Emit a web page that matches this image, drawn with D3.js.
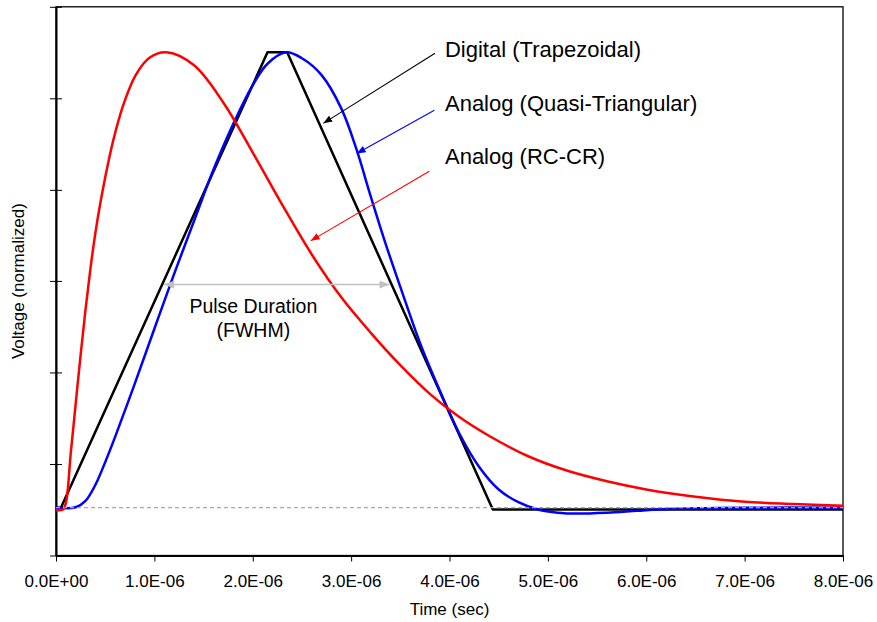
<!DOCTYPE html>
<html>
<head>
<meta charset="utf-8">
<script src="https://cdn.jsdelivr.net/npm/d3@7"></script>
<style>
  body { margin: 0; background: #fff; }
  svg { font-family: "Liberation Sans", Arial, sans-serif; }
</style>
</head>
<body>
<div id="chart"></div>
<script>
// Times are in microseconds, voltage is normalized to the peak
const trapTime = [0, 0.05, 2.15, 2.35, 4.44, 8.0];
const trapVolt = [0, 0, 1.0, 1.0, -0.004, -0.004];

const triTime = [0, 0.2, 0.3, 0.4, 0.5, 0.6, 0.8, 1.0, 1.2, 1.4, 1.6, 1.8, 2.0, 2.15, 2.34,
  2.5, 2.7, 2.9, 3.05, 3.2, 3.35, 3.5, 3.7, 3.9, 4.1, 4.3, 4.5, 4.7, 4.9,
  5.1, 5.3, 5.6, 5.9, 6.2, 6.6, 7.0, 8.0];
const triVolt = [0, 0.001, 0.015, 0.05, 0.1, 0.155, 0.272, 0.393, 0.513, 0.628, 0.742, 0.842, 0.928, 0.975, 1.0,
  0.987, 0.95, 0.877, 0.79, 0.683, 0.58, 0.485, 0.362, 0.258, 0.163, 0.09, 0.04, 0.012, -0.004,
  -0.011, -0.013, -0.011, -0.007, -0.003, -0.001, 0, 0];

const rcTime = [0, 0.07, 0.1, 0.15, 0.2, 0.25, 0.3, 0.35, 0.4, 0.45, 0.5, 0.58, 0.68, 0.81, 0.95, 1.12,
  1.4, 1.7, 2.0, 2.3, 2.6, 2.9, 3.2, 3.5, 3.8, 4.1, 4.4, 4.8, 5.2, 5.6, 6.0, 6.5, 7.0, 7.5, 8.0];
const rcVolt = [-0.005, -0.004, 0.01, 0.12, 0.228, 0.335, 0.435, 0.525, 0.603, 0.668, 0.725, 0.805, 0.882, 0.95, 0.988, 1.0,
  0.972, 0.89, 0.78, 0.665, 0.556, 0.462, 0.384, 0.313, 0.25, 0.199, 0.158, 0.113, 0.081, 0.058, 0.04, 0.024, 0.013, 0.008, 0.004];

const xTicksUs = [0, 1, 2, 3, 4, 5, 6, 7, 8];
const yTicks = [-0.105, 0.096, 0.297, 0.498, 0.698, 0.899, 1.1];

// callouts: label position, arrow start and arrow tip, in (µs, volt)
const calloutLabels = ["Digital (Trapezoidal)", "Analog (Quasi-Triangular)", "Analog (RC-CR)"];
const calloutColors = ["#000000", "#0000ff", "#ff0000"];
const calloutText = [[3.954, 0.99], [3.954, 0.872], [3.954, 0.755]];
const calloutFrom = [[3.853, 0.998], [3.846, 0.873], [3.795, 0.739]];
const calloutTo = [[2.717, 0.844], [3.057, 0.778], [2.589, 0.586]];

// FWHM marker between the half-height points of the trapezoid
const fwhmSpan = [1.1, 3.39];
const fwhmLevel = 0.49;
const fwhmLines = ["Pulse Duration", "(FWHM)"];
const fwhmTextPos = [[2.006, 0.427], [2.006, 0.375]];

const US = 1e-6;
const width = 877, height = 622;
const margin = { top: 6.8, right: 34, bottom: 66.5, left: 56 };
const innerW = width - margin.left - margin.right;
const innerH = height - margin.top - margin.bottom;

const svg = d3.select("#chart").append("svg")
  .attr("width", width)
  .attr("height", height);

const defs = svg.append("defs");
function arrowMarker(id, color, len, half) {
  defs.append("marker")
    .attr("id", id)
    .attr("markerUnits", "userSpaceOnUse")
    .attr("viewBox", `0 ${-half} ${len} ${half * 2}`)
    .attr("refX", len)
    .attr("refY", 0)
    .attr("markerWidth", len)
    .attr("markerHeight", half * 2)
    .attr("orient", "auto-start-reverse")
    .append("path")
    .attr("d", `M0,${-half}L${len},0L0,${half}Z`)
    .attr("fill", color);
}
calloutColors.forEach((c, i) => arrowMarker("arrow" + i, c, 9, 3.5));
arrowMarker("arrowGray", "#c0c0c0", 10, 4);

const g = svg.append("g")
  .attr("transform", `translate(${margin.left},${margin.top})`);

const x = d3.scaleLinear().domain([0, 8 * US]).range([0, innerW]);
const y = d3.scaleLinear().domain([-0.105, 1.1]).range([innerH, 0]);

function sciLabel(d) {
  const [m, e] = d.toExponential(1).split("e");
  const sign = e[0] === "-" ? "-" : "+";
  const digits = e.replace(/[+-]/, "").padStart(2, "0");
  return `${m}E${sign}${digits}`;
}

// frame
g.append("rect")
  .attr("width", innerW)
  .attr("height", innerH)
  .attr("fill", "none")
  .attr("stroke", "#000")
  .attr("stroke-width", 1.3);

// x axis
const xAxis = g.append("g")
  .attr("transform", `translate(0,${innerH})`)
  .call(d3.axisBottom(x)
    .tickValues(xTicksUs.map((d) => d * US))
    .tickFormat(sciLabel)
    .tickSize(6)
    .tickSizeOuter(0)
    .tickPadding(13));
xAxis.select(".domain").attr("stroke-width", 2);
xAxis.selectAll("text").attr("font-size", 17).attr("fill", "#000")
  .attr("font-family", '"Liberation Sans", Arial, sans-serif');

// y axis, ticks cross the line, no labels
const yAxis = g.append("g")
  .call(d3.axisLeft(y)
    .tickValues(yTicks)
    .tickFormat("")
    .tickSize(6)
    .tickSizeOuter(0));
yAxis.select(".domain").attr("stroke-width", 2);
yAxis.selectAll(".tick line").attr("x1", 6);

// curves
const toPoints = (ts, vs) => ts.map((t, i) => ({ t: t * US, v: vs[i] }));
const straight = d3.line().x((d) => x(d.t)).y((d) => y(d.v));
const smooth = d3.line().x((d) => x(d.t)).y((d) => y(d.v)).curve(d3.curveCatmullRom.alpha(0.5));

const series = [
  { pts: toPoints(trapTime, trapVolt), color: "#000000", gen: straight },
  { pts: toPoints(triTime, triVolt), color: "#0000ff", gen: smooth },
  { pts: toPoints(rcTime, rcVolt), color: "#ff0000", gen: smooth },
];

g.selectAll("path.series")
  .data(series)
  .join("path")
  .attr("class", "series")
  .attr("d", (d) => d.gen(d.pts))
  .attr("fill", "none")
  .attr("stroke", (d) => d.color)
  .attr("stroke-width", 2.5)
  .attr("stroke-linejoin", "round");

// zero baseline
g.append("line")
  .attr("x1", x(0))
  .attr("x2", x(8 * US))
  .attr("y1", y(0))
  .attr("y2", y(0))
  .attr("stroke", "#a8a8a8")
  .attr("stroke-width", 1.2)
  .attr("stroke-dasharray", "4,3");

// callout arrows and labels
calloutLabels.forEach((label, i) => {
  g.append("line")
    .attr("x1", x(calloutFrom[i][0] * US))
    .attr("y1", y(calloutFrom[i][1]))
    .attr("x2", x(calloutTo[i][0] * US))
    .attr("y2", y(calloutTo[i][1]))
    .attr("stroke", calloutColors[i])
    .attr("stroke-width", 1.1)
    .attr("marker-end", `url(#arrow${i})`);

  g.append("text")
    .attr("x", x(calloutText[i][0] * US))
    .attr("y", y(calloutText[i][1]))
    .attr("font-size", 22)
    .attr("fill", "#000")
    .text(label);
});

// FWHM arrow
g.append("line")
  .attr("x1", x(fwhmSpan[0] * US))
  .attr("x2", x(fwhmSpan[1] * US))
  .attr("y1", y(fwhmLevel))
  .attr("y2", y(fwhmLevel))
  .attr("stroke", "#c0c0c0")
  .attr("stroke-width", 1.5)
  .attr("marker-start", "url(#arrowGray)")
  .attr("marker-end", "url(#arrowGray)");

g.selectAll("text.fwhm")
  .data(fwhmLines)
  .join("text")
  .attr("class", "fwhm")
  .attr("x", (d, i) => x(fwhmTextPos[i][0] * US))
  .attr("y", (d, i) => y(fwhmTextPos[i][1]))
  .attr("text-anchor", "middle")
  .attr("font-size", 19.5)
  .attr("fill", "#000")
  .text((d) => d);

// axis titles
svg.append("text")
  .attr("x", margin.left + innerW / 2)
  .attr("y", 615)
  .attr("text-anchor", "middle")
  .attr("font-size", 17)
  .text("Time (sec)");

svg.append("text")
  .attr("transform", `translate(24,${margin.top + innerH / 2}) rotate(-90)`)
  .attr("text-anchor", "middle")
  .attr("font-size", 17)
  .text("Voltage (normalized)");
</script>
</body>
</html>
